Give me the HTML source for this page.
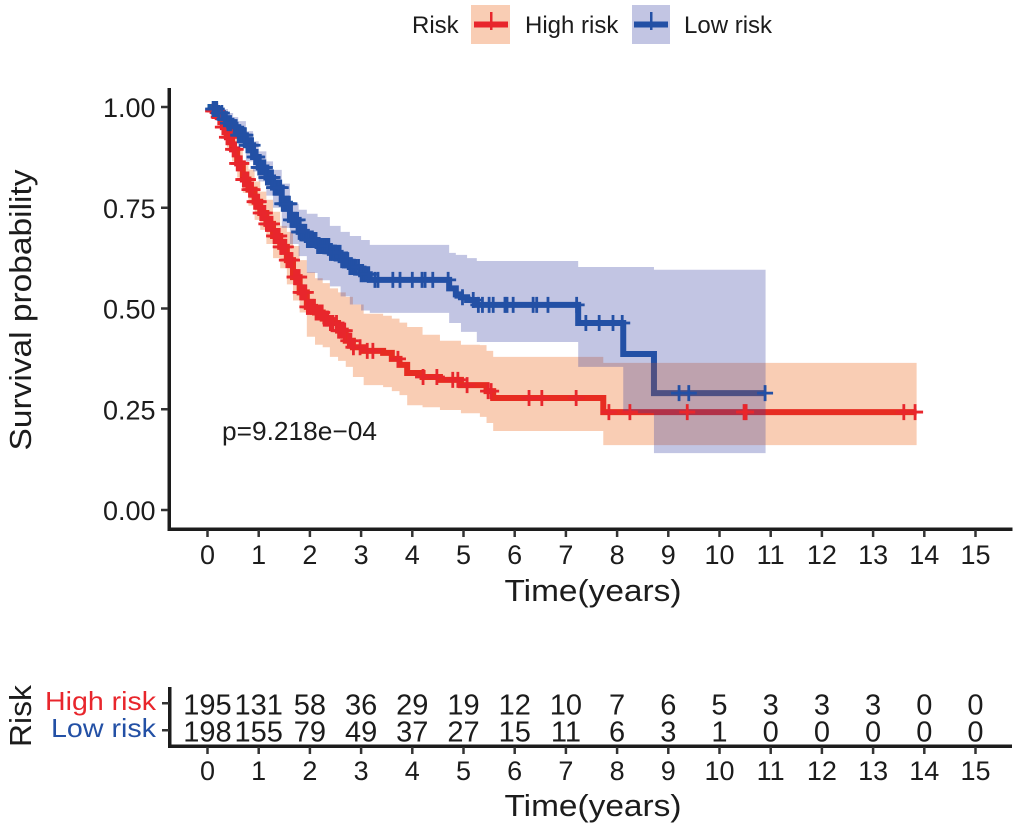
<!DOCTYPE html>
<html>
<head>
<meta charset="utf-8">
<title>Survival curve</title>
<style>
html,body{margin:0;padding:0;background:#fff;}
svg{display:block;}
text{font-family:"Liberation Sans",sans-serif;fill:#1c1c1c;}
</style>
</head>
<body>
<svg id="chart" width="1020" height="830" viewBox="0 0 1020 830" xmlns="http://www.w3.org/2000/svg">
  <g id="legend">
    <text x="412" y="33" font-size="24">Risk</text>
    <rect x="471" y="5" width="39" height="39" fill="#f9cdb4"></rect>
    <rect x="474" y="21.5" width="34" height="6" fill="#e8262c"></rect>
    <rect x="490" y="12" width="2.5" height="18" fill="#e8262c"></rect>
    <text x="525" y="33" font-size="24">High risk</text>
    <rect x="632" y="5" width="38" height="39" fill="#c2c5e3"></rect>
    <rect x="634" y="21.5" width="34" height="6" fill="#2350a5"></rect>
    <rect x="650" y="12" width="2.5" height="18" fill="#2350a5"></rect>
    <text x="684" y="33" font-size="24">Low risk</text>
  </g>
  <g id="plot-lines"></g>
  <g id="plot-ribbons"></g>
  <g id="plot-censors"></g>
  <g id="main-axes">
    <rect x="167.5" y="88" width="3.5" height="443" fill="#1c1c1c"></rect>
    <rect x="167.5" y="527.5" width="845" height="3.5" fill="#1c1c1c"></rect>
  </g>
  <text x="222" y="440" font-size="26" textLength="155" lengthAdjust="spacingAndGlyphs">p=9.218e−04</text>
  <text x="593" y="601" font-size="31" text-anchor="middle" textLength="177" lengthAdjust="spacingAndGlyphs">Time(years)</text>
  <text transform="translate(31,310) rotate(-90)" font-size="31" text-anchor="middle" textLength="281" lengthAdjust="spacingAndGlyphs">Survival probability</text>
  <g id="risk-table">
    <rect x="168" y="687" width="3.5" height="60" fill="#1c1c1c"></rect>
    <rect x="168" y="744.5" width="844" height="3.5" fill="#1c1c1c"></rect>
    <rect x="162" y="702" width="7" height="2.5" fill="#333"></rect>
    <rect x="162" y="729" width="7" height="2.5" fill="#333"></rect>
    <text x="156" y="710" font-size="26" text-anchor="end" textLength="111" lengthAdjust="spacingAndGlyphs" style="fill:#e8262c">High risk</text>
    <text x="156" y="737" font-size="26" text-anchor="end" textLength="105" lengthAdjust="spacingAndGlyphs" style="fill:#2350a5">Low risk</text>
    <text transform="translate(31,716) rotate(-90)" font-size="31" text-anchor="middle" textLength="62" lengthAdjust="spacingAndGlyphs">Risk</text>
    <text x="593" y="816" font-size="31" text-anchor="middle" textLength="177" lengthAdjust="spacingAndGlyphs">Time(years)</text>
  </g>
</svg>
<script>
var xTickLabels = [0,1,2,3,4,5,6,7,8,9,10,11,12,13,14,15];
var yTickLabels = ["0.00","0.25","0.50","0.75","1.00"];
var riskHigh = [195,131,58,36,29,19,12,10,7,6,5,3,3,3,0,0];
var riskLow = [198,155,79,49,37,27,15,11,6,3,1,0,0,0,0,0];

var highTime = [0,.1,.2,.3,.38,.48,.58,.69,.8,.92,1.03,1.15,1.28,1.42,1.55,1.67,1.8,1.94,2.1,2.25,2.39,2.55,2.7,2.84,3.05,3.43,3.6,3.75,3.9,4.2,4.54,4.95,5.32,5.45,5.58,7.73,13.85];
var highSurv = [1,.99,.975,.95,.925,.895,.86,.82,.795,.765,.737,.71,.68,.653,.62,.578,.54,.504,.49,.475,.464,.445,.42,.404,.395,.39,.375,.36,.34,.33,.323,.31,.31,.295,.278,.243,.243];
var highUpper = [1,1,.995,.98,.955,.925,.895,.865,.845,.815,.79,.77,.74,.705,.69,.655,.62,.59,.575,.563,.55,.54,.529,.51,.487,.482,.475,.465,.454,.435,.42,.41,.409,.395,.38,.365,.365];
var highLower = [1,.975,.955,.925,.9,.865,.825,.787,.755,.72,.695,.66,.625,.6,.56,.52,.49,.43,.41,.404,.38,.37,.355,.33,.31,.305,.295,.285,.26,.255,.248,.24,.231,.216,.196,.161,.161];
var highCensor = [.11,.14,.18,.22,.26,.3,.34,.38,.42,.45,.47,.5,.55,.58,.62,.66,.7,.73,.76,.79,.82,.85,.88,.92,.95,.98,1.0,1.04,1.08,1.12,1.15,1.18,1.22,1.26,1.3,1.33,1.35,1.4,1.43,1.45,1.5,1.53,1.55,1.6,1.63,1.65,1.7,1.72,1.75,1.79,1.82,1.85,1.88,1.92,1.95,2.0,2.03,2.06,2.09,2.12,2.16,2.2,2.24,2.28,2.32,2.35,2.4,2.45,2.52,2.56,2.6,2.64,2.68,2.75,2.8,2.85,2.98,3.12,3.23,3.72,4.21,4.48,4.79,4.89,5.07,5.48,5.54,6.28,6.53,7.2,7.84,8.25,9.37,10.48,10.52,13.6,13.82];

var lowTime = [0,.1,.2,.3,.4,.5,.6,.75,.89,1.0,1.15,1.28,1.45,1.61,1.78,1.94,2.15,2.39,2.6,2.78,3.0,3.17,4.72,4.85,4.95,5.07,5.26,7.24,8.12,8.72,10.9];
var lowSurv = [1,.995,.985,.97,.96,.95,.93,.905,.876,.85,.825,.80,.76,.72,.69,.67,.655,.638,.62,.603,.585,.571,.55,.535,.528,.521,.509,.464,.387,.29,.29];
var lowUpper = [1,1,1,.995,.985,.975,.965,.94,.915,.89,.865,.844,.81,.76,.745,.735,.727,.705,.69,.68,.67,.658,.638,.633,.633,.625,.618,.603,.603,.596,.596];
var lowLower = [1,.98,.965,.95,.935,.925,.9,.865,.84,.815,.78,.75,.7,.66,.63,.588,.57,.555,.53,.51,.495,.489,.464,.464,.442,.442,.417,.355,.24,.141,.141];
var lowCensor = [.11,.14,.18,.22,.28,.33,.37,.4,.45,.52,.56,.6,.63,.68,.71,.74,.77,.8,.83,.85,.88,.92,.95,.97,1.0,1.03,1.07,1.1,1.12,1.15,1.17,1.2,1.22,1.25,1.27,1.3,1.32,1.35,1.37,1.4,1.43,1.46,1.48,1.51,1.53,1.56,1.58,1.6,1.63,1.66,1.68,1.71,1.73,1.76,1.79,1.82,1.85,1.88,1.92,1.95,1.98,2.02,2.05,2.09,2.12,2.15,2.18,2.22,2.26,2.3,2.33,2.37,2.4,2.44,2.47,2.51,2.55,2.59,2.62,2.66,2.7,2.74,2.78,2.82,2.86,2.9,2.95,3.0,3.05,3.1,3.15,3.27,3.33,3.62,3.76,4.0,4.19,4.25,4.4,4.7,4.98,5.19,5.29,5.37,5.5,5.58,5.81,5.85,5.97,6.36,6.43,6.65,7.21,7.39,7.65,7.92,8.1,9.21,9.4,10.89];

var SVGNS = "http://www.w3.org/2000/svg";
function xScale(t){ return 207.5 + t * 51.2; }
function yScale(s){ return 510 - s * 403; }

function stepLine(times, vals){
  var d = "M" + xScale(times[0]) + " " + yScale(vals[0]);
  for (var i = 1; i < times.length; i++){
    d += "H" + xScale(times[i]) + "V" + yScale(vals[i]);
  }
  return d;
}
function stepBand(times, upper, lower){
  var n = times.length;
  var d = "M" + xScale(times[0]) + " " + yScale(upper[0]);
  for (var i = 1; i < n; i++){
    d += "H" + xScale(times[i]) + "V" + yScale(upper[i]);
  }
  for (var j = n - 1; j > 0; j--){
    d += "V" + yScale(lower[j - 1]) + "H" + xScale(times[j - 1]);
  }
  return d + "Z";
}
function survivalAt(times, vals, t){
  var v = vals[0];
  for (var i = 0; i < times.length; i++){
    if (times[i] <= t) { v = vals[i]; }
  }
  return v;
}

function drawSeries(times, surv, upper, lower, censor, lineColor, bandColor, markColor){
  var line = document.createElementNS(SVGNS, "path");
  line.setAttribute("d", stepLine(times, surv));
  line.setAttribute("fill", "none");
  line.setAttribute("stroke", lineColor);
  line.setAttribute("stroke-width", "6");
  
  
  document.getElementById("plot-lines").appendChild(line);

  var band = document.createElementNS(SVGNS, "path");
  band.setAttribute("d", stepBand(times, upper, lower));
  band.setAttribute("fill", bandColor);
  band.setAttribute("fill-opacity", "0.3");
  
  
  document.getElementById("plot-ribbons").appendChild(band);

  for (var i = 0; i < censor.length; i++){
    var cx = xScale(censor[i]);
    var cy = yScale(survivalAt(times, surv, censor[i]));
    var mark = document.createElementNS(SVGNS, "path");
    mark.setAttribute("d", "M" + (cx - 8) + " " + cy + "H" + (cx + 8) + "M" + cx + " " + (cy - 8) + "V" + (cy + 8));
    mark.setAttribute("stroke", markColor);
    mark.setAttribute("stroke-width", "2.8");
    mark.setAttribute("fill", "none");
    
    
    document.getElementById("plot-censors").appendChild(mark);
  }
}
drawSeries(highTime, highSurv, highUpper, highLower, highCensor, "#e6192d", "#eb5805", "#e8262c");
drawSeries(lowTime, lowSurv, lowUpper, lowLower, lowCensor, "#1c58a6", "#343ea2", "#2350a5");

var mainAxes = document.getElementById("main-axes");
var riskTable = document.getElementById("risk-table");

function addText(parent, x, y, size, anchor, str){
  var t = document.createElementNS(SVGNS, "text");
  t.setAttribute("x", x);
  t.setAttribute("y", y);
  t.setAttribute("font-size", size);
  t.setAttribute("text-anchor", anchor);
  t.textContent = str;
  parent.appendChild(t);
  return t;
}
function addRect(parent, x, y, w, h){
  var r = document.createElementNS(SVGNS, "rect");
  r.setAttribute("x", x);
  r.setAttribute("y", y);
  r.setAttribute("width", w);
  r.setAttribute("height", h);
  r.setAttribute("fill", "#333");
  parent.appendChild(r);
  return r;
}

xTickLabels.forEach(function(v, i){
  var px = xScale(v);
  var tick = addRect(mainAxes, px - 1.25, 530, 2.5, 7);
  
  
  var label = addText(mainAxes, px, 564, 27, "middle", String(v));
  
  

  var rTick = addRect(riskTable, px - 1.25, 747, 2.5, 7);
  
  
  var rLabel = addText(riskTable, px, 780, 27, "middle", String(v));
  
  

  var hi = addText(riskTable, px, 714.5, 29, "middle", String(riskHigh[i]));
  
  
  var lo = addText(riskTable, px, 741.5, 29, "middle", String(riskLow[i]));
  
  
});

yTickLabels.forEach(function(v){
  var py = yScale(parseFloat(v));
  var tick = addRect(mainAxes, 161, py - 1.25, 7, 2.5);
  
  
  var label = addText(mainAxes, 155.5, py + 10, 27, "end", v);
  
  
});
</script>
</body>
</html>
